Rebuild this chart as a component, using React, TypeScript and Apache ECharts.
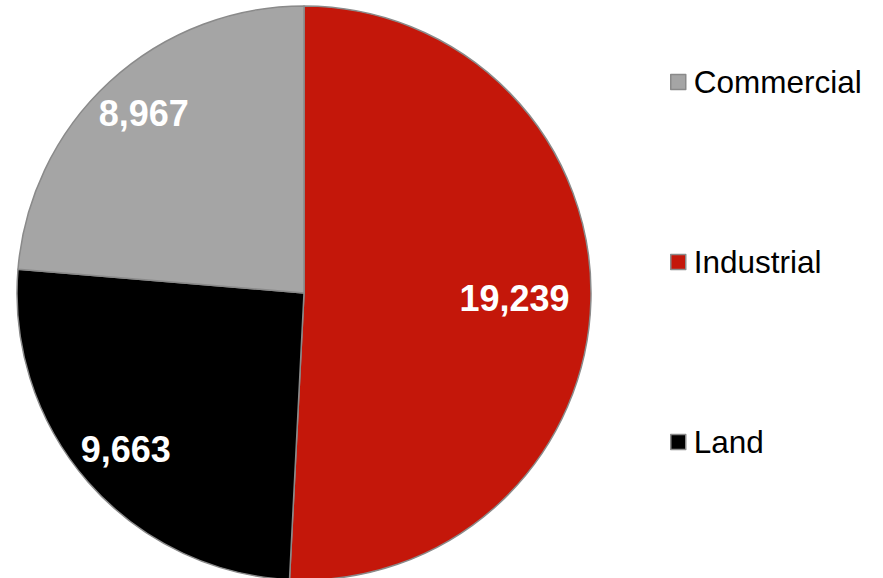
import React, { useEffect, useRef } from "react";
import * as echarts from "echarts";

// Slices in clockwise order, starting at 12 o'clock
const categories = ["Industrial", "Land", "Commercial"];
const values = [19239, 9663, 8967];
const colors = ["#C4170A", "#000000", "#A5A5A5"];
// Legend order
const legendOrder = ["Commercial", "Industrial", "Land"];
// Label nudges from the default inside position
const labelOffsets: [number, number][] = [
  [64, 2],
  [-68, 60],
  [-61, -72],
];

export default function App() {
  const ref = useRef<HTMLDivElement>(null);

  useEffect(() => {
    document.body.style.margin = "0";
    if (!ref.current) return;
    const chart = echarts.init(ref.current, null, { renderer: "svg" });
    chart.setOption({
      animation: false,
      backgroundColor: "#ffffff",
      legend: {
        data: legendOrder,
        orient: "vertical",
        left: 665,
        top: 61,
        itemWidth: 15,
        itemHeight: 15,
        itemGap: 148,
        icon: "rect",
        itemStyle: { borderColor: "#8a8a8a", borderWidth: 1.5 },
        textStyle: {
          fontFamily: "Liberation Sans, Arial, sans-serif",
          fontSize: 31.5,
          lineHeight: 32,
          padding: [0, 0, 0, 3],
          color: "#000000",
        },
      },
      series: [
        {
          type: "pie",
          center: [304, 293],
          radius: 287,
          startAngle: 90,
          clockwise: true,
          itemStyle: { borderColor: "#8a8a8a", borderWidth: 1.5 },
          emphasis: { disabled: true },
          label: {
            show: true,
            position: "inside",
            color: "#ffffff",
            fontFamily: "Liberation Sans, Arial, sans-serif",
            fontSize: 36,
            fontWeight: "bold",
            formatter: (p: any) => p.value.toLocaleString("en-US"),
          },
          labelLine: { show: false },
          data: categories.map((name, i) => ({
            name,
            value: values[i],
            itemStyle: { color: colors[i] },
            label: { offset: labelOffsets[i] },
          })),
        },
      ],
    });
    return () => chart.dispose();
  }, []);

  return <div ref={ref} style={{ width: 883, height: 578 }} />;
}
